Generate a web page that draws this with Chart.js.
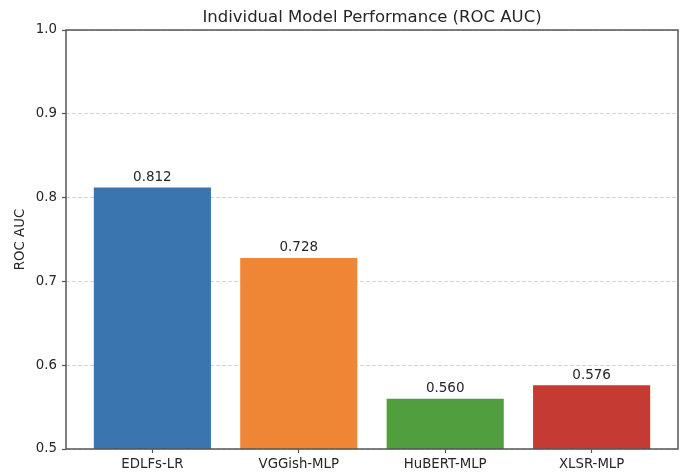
<!DOCTYPE html>
<html>
<head>
<meta charset="utf-8">
<script src="https://cdn.jsdelivr.net/npm/chart.js@4"></script>
<style>
  html, body { margin: 0; padding: 0; background: #fff; }
  #wrap { width: 683px; height: 476px; }
</style>
</head>
<body>
<div id="wrap"><canvas id="graficoRoc"></canvas></div>
<script>
// Data
const modelos = ['EDLFs-LR', 'VGGish-MLP', 'HuBERT-MLP', 'XLSR-MLP'];
const rocAuc = [0.812, 0.728, 0.560, 0.576];
const coresBarras = ['#3a75af', '#ef8636', '#519e3e', '#c53a32'];
const yTicks = [0.5, 0.6, 0.7, 0.8, 0.9, 1.0];

const fonte = 'DejaVu Sans';
const corTexto = '#262626';
const corEixo = '#555555';

// Title centred over the plot area, plus the box around it and the value labels
const extras = {
    id: 'extras',
    afterDraw(chart) {
        const ctx = chart.ctx;
        const area = chart.chartArea;
        ctx.save();
        // frame
        ctx.strokeStyle = corEixo;
        ctx.lineWidth = 1.5;
        ctx.strokeRect(area.left, area.top, area.right - area.left, area.bottom - area.top);
        // title
        ctx.fillStyle = corTexto;
        ctx.font = '16.5px "' + fonte + '"';
        ctx.textAlign = 'center';
        ctx.textBaseline = 'alphabetic';
        ctx.fillText('Individual Model Performance (ROC AUC)', (area.left + area.right) / 2, 22);
        // value labels
        ctx.font = '13.5px "' + fonte + '"';
        chart.getDatasetMeta(0).data.forEach((bar, i) => {
            ctx.fillText(rocAuc[i].toFixed(3), bar.x, bar.y - 6.5);
        });
        ctx.restore();
    }
};

function criarGrafico() {
    const ctx = document.getElementById('graficoRoc').getContext('2d');
    return new Chart(ctx, {
        type: 'bar',
        data: {
            datasets: [{
                data: rocAuc.map((v, i) => ({ x: i, y: v })),
                backgroundColor: coresBarras,
                borderWidth: 0,
                categoryPercentage: 1,
                barPercentage: 0.8
            }]
        },
        options: {
            responsive: true,
            maintainAspectRatio: false,
            animation: false,
            layout: { padding: { top: 30, right: 5, left: 0, bottom: 0 } },
            plugins: {
                legend: { display: false },
                title: { display: false },
                tooltip: { enabled: false }
            },
            scales: {
                x: {
                    type: 'linear',
                    min: -0.59,
                    max: 3.59,
                    offset: false,
                    afterBuildTicks: (scale) => {
                        scale.ticks = modelos.map((m, i) => ({ value: i }));
                    },
                    afterFit: (scale) => { scale.height = 27; },
                    ticks: {
                        callback: (v) => modelos[v],
                        color: corTexto,
                        font: { family: fonte, size: 13.3 },
                        padding: 4,
                        maxRotation: 0,
                        autoSkip: false
                    },
                    grid: {
                        offset: false,
                        drawOnChartArea: false,
                        drawTicks: true,
                        tickLength: 4,
                        tickColor: corEixo,
                        tickWidth: 1.2
                    },
                    border: { display: false }
                },
                y: {
                    min: 0.5,
                    max: 1.0,
                    z: 1,
                    afterBuildTicks: (scale) => {
                        scale.ticks = yTicks.map(v => ({ value: v }));
                    },
                    afterFit: (scale) => { scale.width = 66; },
                    ticks: {
                        callback: (v) => v.toFixed(1),
                        color: corTexto,
                        font: { family: fonte, size: 13.3 },
                        padding: 5
                    },
                    grid: {
                        color: 'rgba(185,185,185,0.6)',
                        lineWidth: 1,
                        tickBorderDash: [],
                        tickLength: 4,
                        tickColor: corEixo,
                        tickWidth: 1.2
                    },
                    border: { display: false, dash: [4, 2] },
                    title: {
                        display: true,
                        text: 'ROC AUC',
                        color: corTexto,
                        font: { family: fonte, size: 13.3 },
                        padding: { top: 13, bottom: 0 }
                    }
                }
            }
        },
        plugins: [extras]
    });
}

criarGrafico();
</script>
</body>
</html>
